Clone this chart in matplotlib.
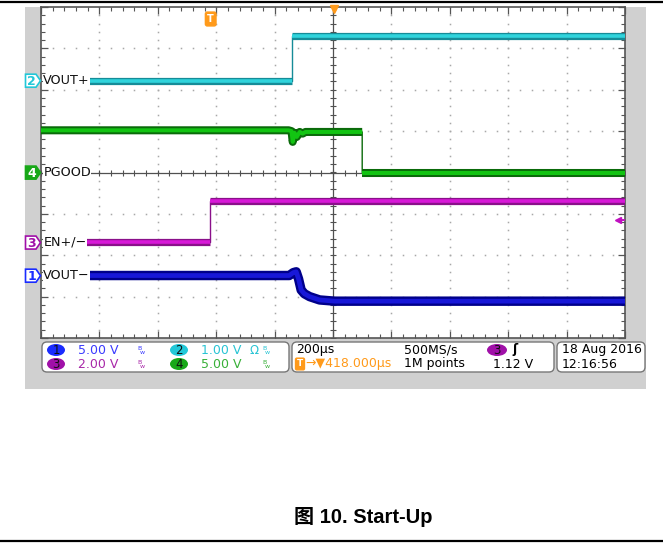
import numpy as np
import matplotlib.pyplot as plt
from matplotlib.patches import Rectangle, FancyBboxPatch, Ellipse, Polygon

W, H = 663, 543

# Traces, in screen divisions (x: -5..5, y: -4..4)
ch2_t = [-4.20, -0.70, -0.70, 5.00]                      # VOUT+
ch2_v = [2.22, 2.22, 3.31, 3.31]

ch4_t = [-5.00, -0.76, -0.71, -0.69, -0.66, -0.62, -0.57, -0.52, -0.47, 0.50, 0.50, 5.00]   # PGOOD
ch4_v = [1.02, 1.02, 1.00, 0.74, 0.96, 0.86, 0.98, 0.94, 0.98, 0.98, 0.00, 0.00]

ch3_t = [-4.26, -2.10, -2.10, 5.00]                      # EN+/-
ch3_v = [-1.69, -1.69, -0.69, -0.69]

ch1_t = [-4.20, -0.75, -0.68, -0.63, -0.59, -0.545, -0.49, -0.40, -0.23, 0.03, 5.00]   # VOUT-
ch1_v = [-2.49, -2.49, -2.42, -2.40, -2.57, -2.84, -2.93, -3.00, -3.08, -3.11, -3.11]

trig_level = -1.145

labels = ["VOUT+", "PGOOD", "EN+/\u2212", "VOUT\u2212"]
label_y = [2.22, 0.0, -1.69, -2.49]
label_ch = ["2", "4", "3", "1"]

ch_color = {"1": "#1a2cff", "2": "#22c8d8", "3": "#a010a8", "4": "#18a818"}
scale_text = {"1": "5.00 V", "2": "1.00 V", "3": "2.00 V", "4": "5.00 V"}
scale_txtcol = {"1": "#3a3aff", "2": "#28c4d4", "3": "#a828a8", "4": "#38b038"}

orange = "#ff9a1a"

fig = plt.figure(figsize=(W / 100, H / 100), dpi=100)

# background / frame layer in pixel coords
bg = fig.add_axes([0, 0, 1, 1], zorder=0)
bg.set_xlim(0, W)
bg.set_ylim(H, 0)
bg.axis("off")
bg.add_patch(Rectangle((25, 7), 621, 382, fc="#d0d0d0", ec="none"))
bg.plot([0, W], [2, 2], color="black", lw=1.6)
bg.plot([0, W], [540.5, 540.5], color="black", lw=1.6)

# scope screen
ax = fig.add_axes([41 / W, (H - 338) / H, 584 / W, 331 / H], zorder=1)
ax.set_xlim(-5, 5)
ax.set_ylim(-4, 4)
ax.set_facecolor("white")
for s in ax.spines.values():
    s.set_color("#555555")
    s.set_linewidth(1.2)
ax.set_xticks(np.arange(-5, 5.01, 1))
ax.set_yticks(np.arange(-4, 4.01, 1))
ax.set_xticks(np.arange(-5, 5.01, 0.2), minor=True)
ax.set_yticks(np.arange(-4, 4.01, 0.2), minor=True)
ax.tick_params(which="both", direction="in", top=True, right=True,
               labelbottom=False, labelleft=False, color="#555555")
ax.tick_params(which="major", length=5, width=0.9)
ax.tick_params(which="minor", length=3, width=0.8)

# dotted graticule
sub_x = np.arange(-5, 5.01, 0.2)
sub_y = np.arange(-4, 4.01, 0.2)
for k in [-4, -3, -2, -1, 1, 2, 3, 4]:
    ax.plot(np.full_like(sub_y, k), sub_y, ls="none", marker="s", ms=1.1,
            color="#a8a8a8", mew=0, zorder=1)
for k in [-3, -2, -1, 1, 2, 3]:
    ax.plot(sub_x, np.full_like(sub_x, k), ls="none", marker="s", ms=1.1,
            color="#a8a8a8", mew=0, zorder=1)

# centre crosshair with ticks
ax.axhline(0, color="#505050", lw=0.9, zorder=2)
ax.axvline(0, color="#505050", lw=0.9, zorder=2)
ax.plot(sub_x, np.zeros_like(sub_x), ls="none", marker="|", ms=4.5, mew=0.8,
        color="#505050", zorder=2)
ax.plot(np.zeros_like(sub_y), sub_y, ls="none", marker="_", ms=4.5, mew=0.8,
        color="#505050", zorder=2)


def draw_trace(t, v, dark, light, w):
    t = np.asarray(t, float)
    v = np.asarray(v, float)
    ax.plot(t, v, color=dark, lw=1.0, zorder=4, solid_capstyle="butt")
    cuts = [0] + [i for i in range(1, len(t)) if t[i] == t[i - 1]] + [len(t)]
    for a, b in zip(cuts[:-1], cuts[1:]):
        if b - a < 2:
            continue
        ax.plot(t[a:b], v[a:b], color=dark, lw=w, zorder=5,
                solid_capstyle="butt", solid_joinstyle="round")
        ax.plot(t[a:b], v[a:b], color=light, lw=w * 0.5, zorder=6,
                solid_capstyle="butt", solid_joinstyle="round")


draw_trace(ch2_t, ch2_v, "#168c98", "#30d4dc", 5.2)
draw_trace(ch4_t, ch4_v, "#0a6a0a", "#12c412", 5.8)
draw_trace(ch3_t, ch3_v, "#8a108a", "#d818d8", 5.2)
draw_trace(ch1_t, ch1_v, "#00008a", "#1818d8", 6.8)

# trigger level arrow
ax.plot([4.88], [trig_level], marker="<", ms=5, color="#c010c0", clip_on=False, zorder=7)
ax.plot([4.88, 5.0], [trig_level, trig_level], color="#c010c0", lw=1.4, zorder=7)

# channel names
for name, y in zip(labels, label_y):
    ax.text(-4.96, y, name, fontsize=9.2, color="#101010", va="center", ha="left",
            zorder=8, bbox=dict(boxstyle="square,pad=0.02", fc="white", ec="none"))

# overlay in pixel coords
ov = fig.add_axes([0, 0, 1, 1], zorder=3)
ov.set_xlim(0, W)
ov.set_ylim(H, 0)
ov.axis("off")
ov.patch.set_alpha(0)

# channel ground markers
for ch, y in zip(label_ch, label_y):
    py = 172.6 - y * 41.4
    c = ch_color[ch]
    filled = ch == "4"
    ov.add_patch(Polygon([(25.5, py - 6.5), (36, py - 6.5), (40.5, py), (36, py + 6.5), (25.5, py + 6.5)],
                         closed=True, fc=c if filled else "white", ec=c, lw=1.2))
    ov.text(31.5, py + 0.5, ch, fontsize=9, ha="center", va="center",
            color="white" if filled else c, fontweight="bold")

# trigger position / expansion markers
ov.text(210.7, 19, "T", fontsize=7, color="white", fontweight="bold", ha="center", va="center",
        bbox=dict(boxstyle="round,pad=0.2", fc=orange, ec=orange))
ov.plot([333.5], [9], marker="v", ms=6, color=orange, clip_on=False)

# readout boxes
for x0, x1 in [(42, 289), (292, 554), (557, 645)]:
    ov.add_patch(FancyBboxPatch((x0, 342), x1 - x0, 30, boxstyle="round,pad=0,rounding_size=5",
                                fc="white", ec="#777777", lw=1.0))

rows = {"1": (56, 350), "2": (179, 350), "3": (56, 364), "4": (179, 364)}
for ch, (cx, cy) in rows.items():
    ov.add_patch(Ellipse((cx, cy), 18, 12, fc=ch_color[ch], ec="none"))
    ov.text(cx, cy + 0.5, ch, fontsize=8.5, ha="center", va="center", color="#101010")
    ov.text(cx + 22, cy, scale_text[ch], fontsize=9, ha="left", va="center",
            color=scale_txtcol[ch])
    bwx = cx + 81 if ch in "13" else cx + 83
    if ch == "2":
        ov.text(cx + 71, cy, "\u03a9", fontsize=8.5, ha="left", va="center",
                color=scale_txtcol[ch])
    ov.text(bwx, cy - 2, "B", fontsize=4.5, ha="left", va="center", color=scale_txtcol[ch])
    ov.text(bwx + 2.5, cy + 2, "w", fontsize=4.5, ha="left", va="center", color=scale_txtcol[ch])

ov.text(296, 350, "200\u00b5s", fontsize=9, ha="left", va="center", color="black")
ov.text(300, 364, "T", fontsize=6.5, color="white", fontweight="bold", ha="center", va="center",
        bbox=dict(boxstyle="round,pad=0.15", fc=orange, ec=orange))
ov.text(305, 364, "\u2192\u25bc418.000\u00b5s", fontsize=9, ha="left", va="center", color=orange)
ov.text(404, 350, "500MS/s", fontsize=9, ha="left", va="center", color="black")
ov.text(404, 364, "1M points", fontsize=9, ha="left", va="center", color="black")
ov.add_patch(Ellipse((497, 350), 20, 12, fc=ch_color["3"], ec="none"))
ov.text(497, 350.5, "3", fontsize=8.5, ha="center", va="center", color="#101010")
ov.text(515, 350, "\u0283", fontsize=9, ha="center", va="center", color="black", fontweight="bold")
ov.text(493, 364, "1.12 V", fontsize=9, ha="left", va="center", color="black")
ov.text(562, 350, "18 Aug 2016", fontsize=9, ha="left", va="center", color="black")
ov.text(562, 364, "12:16:56", fontsize=9, ha="left", va="center", color="black")

# caption
ov.text(363, 517, "\u56fe 10. Start-Up", fontsize=14.5, fontweight="bold", ha="center", va="center",
        family=["Liberation Sans", "Noto Sans CJK SC", "DejaVu Sans"], color="black")

fig.savefig("out.png", dpi=100)
